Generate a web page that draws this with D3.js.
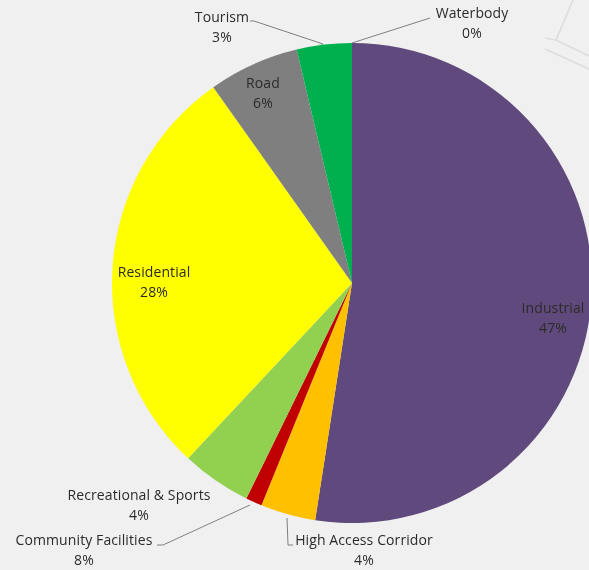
<!DOCTYPE html>
<html>
<head>
<meta charset="utf-8">
<script src="https://cdn.jsdelivr.net/npm/d3@7"></script>
<style>
  html, body { margin: 0; padding: 0; background: #f0f0f0; overflow: hidden; }
  text { font-family: "Open Sans", sans-serif; font-size: 14px; letter-spacing: 0.1px; fill: #2b2b2b; text-anchor: middle; }
</style>
</head>
<body>
<div id="chart"></div>
<script>
// slice sizes are read off the picture, the printed labels do not match them
const categories = ['Industrial', 'High Access Corridor', 'Community Facilities', 'Recreational & Sports', 'Residential', 'Road', 'Tourism', 'Waterbody'];
const sliceShare = [52.4, 3.7, 1.1, 4.7, 28.2, 6.1, 3.7, 0];
const printedShare = [47, 4, 8, 4, 28, 6, 3, 0];
const colors = ['#604a7b', '#ffc000', '#c00000', '#92d050', '#ffff00', '#7f7f7f', '#00b050', '#4f81bd'];

const width = 589;
const height = 570;
const [cx, cy] = [352, 283];
const radius = 240;

// label centre (first line baseline) and leader line per slice
const labelPos = [
  { x: 553, y: 313 },
  { x: 364, y: 545, leader: [[287, 518], [288, 545], [293, 545]] },
  { x: 84, y: 545, leader: [[250, 505], [163, 545], [157, 545]] },
  { x: 139, y: 500 },
  { x: 154, y: 277 },
  { x: 263, y: 88 },
  { x: 222, y: 22, leader: [[323, 44], [254, 21], [250, 21]] },
  { x: 472, y: 18, leader: [[352, 43], [430, 18]] }
];

const svg = d3.select('#chart').append('svg')
  .attr('width', width)
  .attr('height', height);

// the reference is a soft, upscaled picture
svg.append('defs').append('filter')
  .attr('id', 'soft')
  .append('feGaussianBlur')
  .attr('stdDeviation', 0.45);

const root = svg.append('g').attr('filter', 'url(#soft)');

root.append('rect')
  .attr('width', width)
  .attr('height', height)
  .attr('fill', '#f0f0f0');

// faint map lines left over behind the chart, top right corner
const mapLines = [
  'M573 0 L556 40 L545 38',
  'M556 40 L589 56',
  'M545 49 L589 69'
];
root.selectAll('.map')
  .data(mapLines)
  .join('path')
  .attr('class', 'map')
  .attr('d', d => d)
  .attr('fill', 'none')
  .attr('stroke', '#dddddd')
  .attr('stroke-width', 1.6);

const pie = d3.pie().sort(null).value(d => d);
const arc = d3.arc().innerRadius(0).outerRadius(radius);

const g = root.append('g')
  .attr('transform', `translate(${cx}, ${cy})`);

g.selectAll('.slice')
  .data(pie(sliceShare))
  .join('path')
  .attr('class', 'slice')
  .attr('d', arc)
  .attr('fill', (d, i) => colors[i]);

const line = d3.line();
root.selectAll('.leader')
  .data(labelPos.filter(d => d.leader))
  .join('path')
  .attr('class', 'leader')
  .attr('d', d => line(d.leader))
  .attr('fill', 'none')
  .attr('stroke', '#808080')
  .attr('stroke-width', 1);

const labels = root.selectAll('.label')
  .data(categories)
  .join('text')
  .attr('class', 'label')
  .attr('transform', (d, i) => `translate(${labelPos[i].x}, ${labelPos[i].y})`);
labels.append('tspan')
  .attr('x', 0)
  .attr('y', 0)
  .text(d => d);
labels.append('tspan')
  .attr('x', 0)
  .attr('y', 20)
  .text((d, i) => `${printedShare[i]}%`);
</script>
</body>
</html>
